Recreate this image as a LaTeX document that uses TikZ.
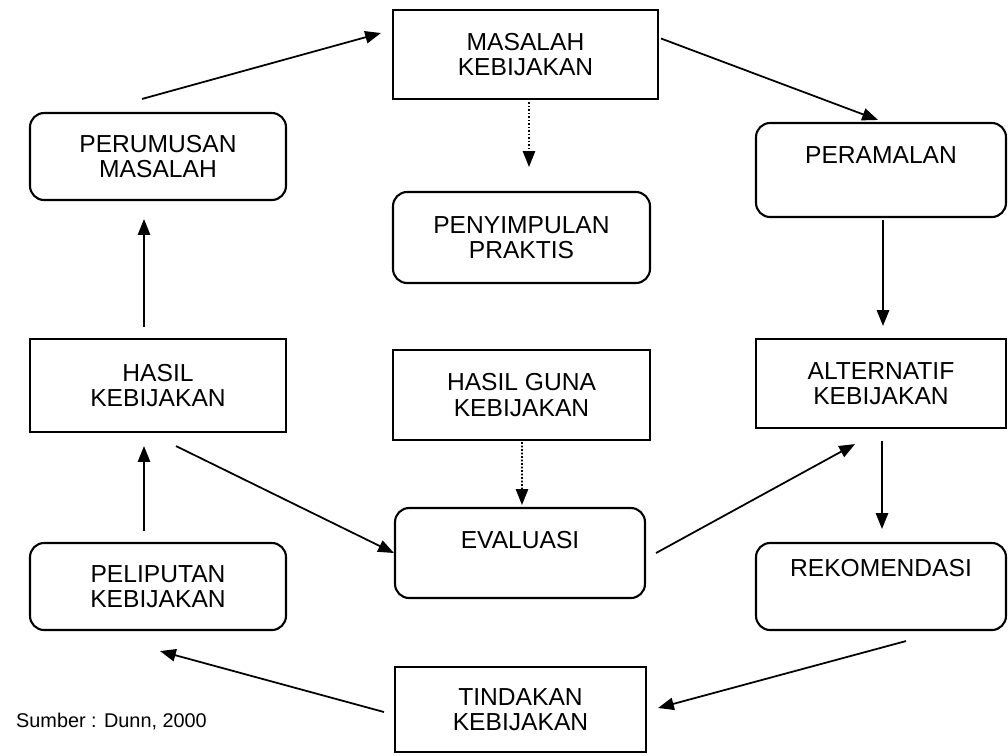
\documentclass[tikz,border=0pt]{standalone}
\usepackage{fontspec}
\setmainfont{Liberation Sans}
\usetikzlibrary{arrows.meta,calc}

\begin{document}
\begin{tikzpicture}[
    x=0.02cm, y=-0.02cm,
    every node/.style={align=center, font=\fontsize{14}{14.5}\selectfont},
    block/.style={rectangle, draw=black, line width=1.2pt, inner sep=0pt, minimum width=5.1cm, minimum height=1.8cm},
    rblock/.style={block, rounded corners=8pt},
    arrow/.style={-{Triangle[length=9pt,width=7pt]}, line width=1pt, draw=black},
    dotarrow/.style={arrow, densely dotted, line width=0.9pt}
]
    \useasboundingbox (0,0) rectangle (1008,755);

    % Nodes - left column
    \node[rblock, minimum width=5.12cm, minimum height=1.74cm] (perumusan) at (158,156.5) {PERUMUSAN\\MASALAH};
    \node[block, minimum width=5.12cm, minimum height=1.86cm] (hasil) at (158,385.5) {HASIL\\KEBIJAKAN};
    \node[rblock, minimum width=5.12cm, minimum height=1.74cm] (peliputan) at (158,586.5) {PELIPUTAN\\KEBIJAKAN};

    % Nodes - middle column
    \node[block, minimum width=5.3cm, minimum height=1.78cm] (masalah) at (525.5,54.5) {MASALAH\\KEBIJAKAN};
    \node[rblock, minimum width=5.14cm, minimum height=1.82cm] (penyimpulan) at (521.5,237.5) {PENYIMPULAN\\PRAKTIS};
    \node[block, minimum width=5.14cm] (hasilguna) at (521.5,395) {HASIL GUNA\\KEBIJAKAN};
    \node[rblock, minimum width=5cm, text depth=0.52cm] (evaluasi) at (520,553) {EVALUASI};
    \node[block, minimum width=5.02cm, minimum height=1.7cm] (tindakan) at (520.5,709.5) {TINDAKAN\\KEBIJAKAN};

    % Nodes - right column
    \node[rblock, minimum width=5cm, minimum height=1.88cm, text depth=0.6cm] (peramalan) at (881,170) {PERAMALAN};
    \node[block, minimum width=5cm, minimum height=1.78cm] (alternatif) at (881,383.5) {ALTERNATIF\\KEBIJAKAN};
    \node[rblock, minimum width=5cm, minimum height=1.74cm, text depth=0.74cm] (rekomendasi) at (881,586.5) {REKOMENDASI};

    % Source
    \node[anchor=west, font=\fontsize{11.3}{13}\selectfont] (sumber) at (10,722) {Sumber : Dunn, 2000};

    % Arrows - around the cycle
    \draw[arrow] ($(perumusan.north)+(-16,-13)$) -- ($(masalah.west)+(-11,-21.5)$);
    \draw[arrow] ($(masalah.east)+(2,-16)$) -- ($(peramalan.north)+(-3,-2)$);
    \draw[arrow] ($(peramalan.south)+(2,2)$) -- ($(alternatif.north)+(2,-12)$);
    \draw[arrow] ($(alternatif.south)+(1,12)$) -- ($(rekomendasi.north)+(1,-13)$);
    \draw[arrow] ($(rekomendasi.south)+(25,10)$) -- ($(tindakan.east)+(11,-1.5)$);
    \draw[arrow] ($(tindakan.west)+(-10,2.5)$) -- ($(peliputan.south)+(2,20)$);
    \draw[arrow] ($(peliputan.north)+(-14,-11)$) -- ($(hasil.south)+(-14,13)$);
    \draw[arrow] ($(hasil.north)+(-14,-11)$) -- ($(perumusan.south)+(-14,18)$);

    % Arrows - through the middle
    \draw[arrow] ($(hasil.south)+(18,13)$) -- (evaluasi.west);
    \draw[arrow] ($(evaluasi.east)+(10,0)$) -- ($(alternatif.south)+(-26,15)$);
    \draw[dotarrow] ($(masalah.south)+(3.5,2)$) -- ($(penyimpulan.north)+(7.5,-24)$);
    \draw[dotarrow] ($(hasilguna.south)+(0.5,1)$) -- ($(evaluasi.north)+(2,-2)$);

\end{tikzpicture}
\end{document}
